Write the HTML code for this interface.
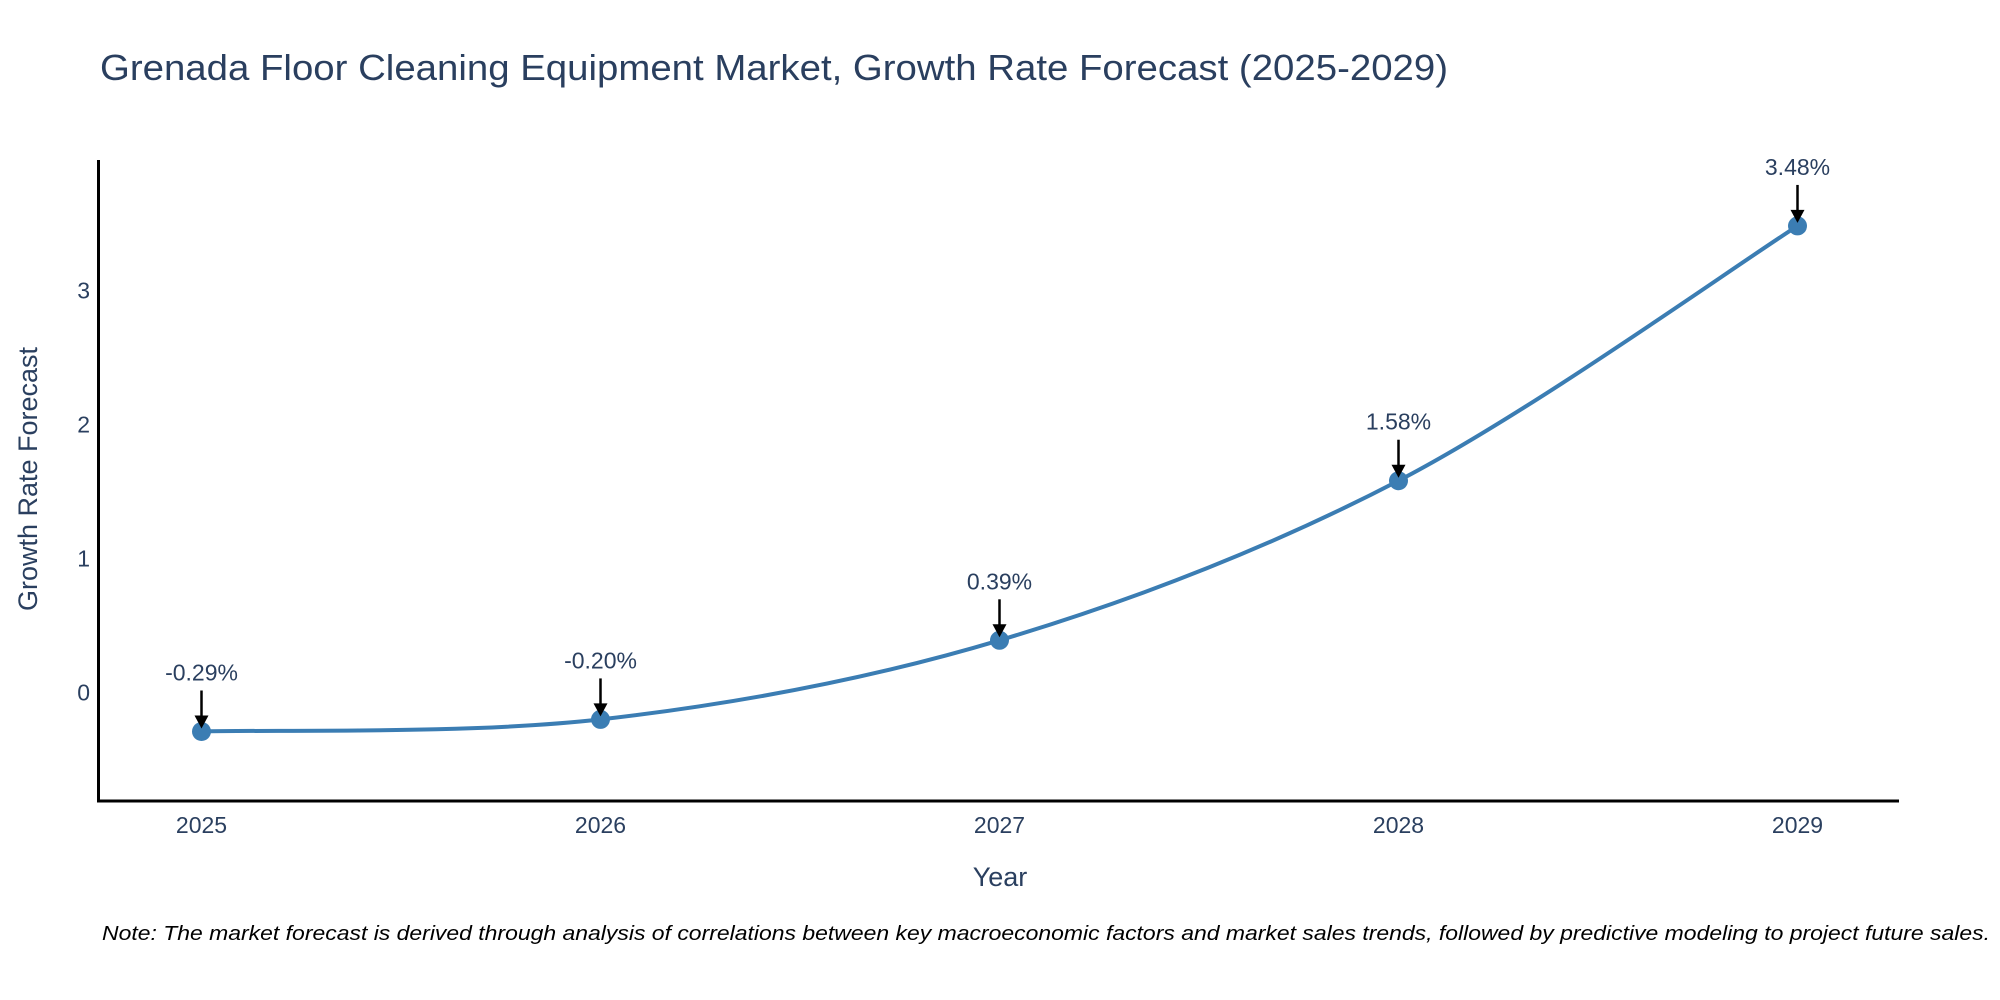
<!DOCTYPE html>
<html><head><meta charset="utf-8"><style>
html,body{margin:0;padding:0;background:#fff;}
svg{display:block;font-family:"Liberation Sans","DejaVu Sans",sans-serif;}
</style></head><body>
<svg id="chart" width="2000" height="1000" viewBox="0 0 2000 1000">
<text x="100" y="80" font-size="36" fill="#2a3f5f" textLength="1348" lengthAdjust="spacingAndGlyphs">Grenada Floor Cleaning Equipment Market, Growth Rate Forecast (2025-2029)</text>
<g id="yticks"></g>
<g id="xticks"></g>
<path id="curve" fill="none" stroke="#3b7db3" stroke-width="4"></path>
<g id="marks"></g>
<g id="annots"></g>
<line x1="98.5" y1="160" x2="98.5" y2="802" stroke="#000" stroke-width="3"/>
<line x1="97" y1="801" x2="1899" y2="801" stroke="#000" stroke-width="3"/>
<text x="1000" y="886" font-size="27" fill="#2a3f5f" text-anchor="middle">Year</text>
<text x="0" y="0" font-size="27" fill="#2a3f5f" text-anchor="middle" transform="translate(37,479) rotate(-90)">Growth Rate Forecast</text>
<text x="102" y="940" font-size="20" font-style="italic" fill="#000" textLength="1888" lengthAdjust="spacingAndGlyphs">Note: The market forecast is derived through analysis of correlations between key macroeconomic factors and market sales trends, followed by predictive modeling to project future sales.</text>
</svg>
<script>
const years = [2025, 2026, 2027, 2028, 2029];
const growth = [-0.29, -0.20, 0.39, 1.58, 3.48];
const labels = ["-0.29%", "-0.20%", "0.39%", "1.58%", "3.48%"];
const yTickValues = [0, 1, 2, 3];

const NS = "http://www.w3.org/2000/svg";
function xs(v){ return 201.5 + (v - 2025) * (1797.5 - 201.5) / 4; }
function ys(v){ return 692.6 - v * 134.1; }
function mk(tag, attrs, parent){
  const e = document.createElementNS(NS, tag);
  for (const k in attrs) e.setAttribute(k, attrs[k]);
  parent.appendChild(e);
  return e;
}
const yt = document.getElementById('yticks');
yTickValues.forEach(v => {
  const t = mk('text', {x: 90, y: ys(v) + 8, 'font-size': 23, fill: '#2a3f5f', 'text-anchor': 'end'}, yt);
  
  
  t.textContent = v;
});
const xt = document.getElementById('xticks');
years.forEach(v => {
  const t = mk('text', {x: xs(v), y: 833, 'font-size': 23, fill: '#2a3f5f', 'text-anchor': 'middle'}, xt);
  
  
  t.textContent = v;
});
// smooth spline (Catmull-Rom)
const pts = years.map((y, i) => [xs(y), ys(growth[i])]);
let d = 'M' + pts[0][0] + ',' + pts[0][1];
const tension = 0.5;
for (let i = 0; i < pts.length - 1; i++) {
  const p0 = pts[i - 1] || pts[i], p1 = pts[i], p2 = pts[i + 1], p3 = pts[i + 2] || pts[i + 1];
  const c1 = [p1[0] + (p2[0] - p0[0]) * tension / 3, p1[1] + (p2[1] - p0[1]) * tension / 3];
  const c2 = [p2[0] - (p3[0] - p1[0]) * tension / 3, p2[1] - (p3[1] - p1[1]) * tension / 3];
  d += ' C' + c1.join(',') + ' ' + c2.join(',') + ' ' + p2.join(',');
}
document.getElementById('curve').setAttribute('d', d);
const mg = document.getElementById('marks');
const ag = document.getElementById('annots');
pts.forEach((p, i) => {
  const c = mk('circle', {cx: p[0], cy: p[1], r: 9.5, fill: '#3b7db3'}, mg);
  
  
  const l = mk('line', {x1: p[0], y1: p[1] - 41, x2: p[0], y2: p[1] - 14, stroke: '#000', 'stroke-width': 2.5}, ag);
  
  
  const h = mk('polygon', {points: (p[0]-7)+','+(p[1]-16)+' '+(p[0]+7)+','+(p[1]-16)+' '+p[0]+','+(p[1]-3), fill: '#000'}, ag);
  
  
  const t = mk('text', {x: p[0], y: p[1] - 51, 'font-size': 23, fill: '#2a3f5f', 'text-anchor': 'middle'}, ag);
  
  
  t.textContent = labels[i];
});
</script>
</body></html>
